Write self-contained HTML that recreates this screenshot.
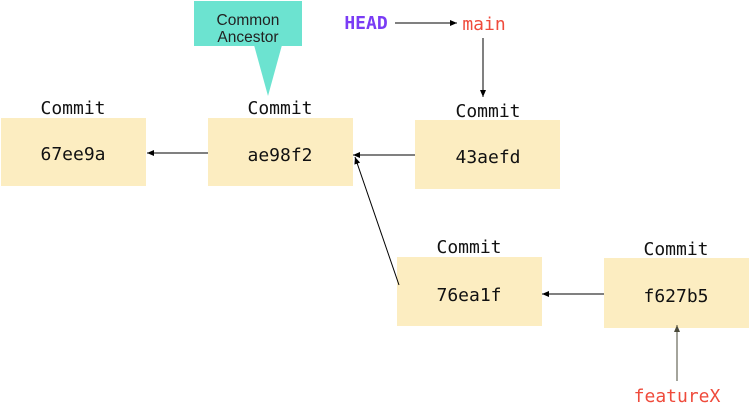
<!DOCTYPE html>
<html><head><style>
body{margin:0;background:#fff;width:750px;height:412px;overflow:hidden}
</style></head><body>
<svg width="750" height="412" xmlns="http://www.w3.org/2000/svg">
<defs><marker id="a" markerWidth="8" markerHeight="8" refX="7" refY="4" orient="auto" markerUnits="userSpaceOnUse"><path d="M0,1 L7,4 L0,7 z" fill="#000"/></marker>
<marker id="b" markerWidth="8" markerHeight="8" refX="7" refY="4" orient="auto" markerUnits="userSpaceOnUse"><path d="M0,1 L7,4 L0,7 z" fill="#4a4a3a"/></marker></defs>
<g fill="#fcedc1">
<rect x="1" y="118" width="145" height="68"/>
<rect x="208" y="118" width="145" height="68"/>
<rect x="415" y="120" width="145" height="69"/>
<rect x="397" y="257" width="145" height="69"/>
<rect x="604" y="258" width="145" height="70"/>
</g>
<rect x="194" y="1" width="108" height="45" fill="#6ce3d0"/>
<path d="M254,45 L282,45 L268,96 z" fill="#6ce3d0"/>
<text x="248" y="25" font-family="Liberation Sans,sans-serif" font-size="15.5" text-anchor="middle" fill="#222">Common</text>
<text x="248" y="42" font-family="Liberation Sans,sans-serif" font-size="15.5" text-anchor="middle" fill="#222">Ancestor</text>
<g font-family="DejaVu Sans Mono,Liberation Mono,monospace" font-size="18" text-anchor="middle" fill="#111">
<text x="73" y="114">Commit</text>
<text x="280" y="114">Commit</text>
<text x="488" y="117">Commit</text>
<text x="469" y="253">Commit</text>
<text x="676" y="255">Commit</text>
<text x="73" y="160">67ee9a</text>
<text x="280" y="161">ae98f2</text>
<text x="488" y="163">43aefd</text>
<text x="469" y="301">76ea1f</text>
<text x="676" y="302">f627b5</text>
<text x="366" y="29" fill="#7a3cf5" font-weight="bold">HEAD</text>
<text x="484" y="30" fill="#ef4b3c">main</text>
<text x="677" y="402" fill="#ef4b3c">featureX</text>
</g>
<g stroke="#000" stroke-width="1" fill="none">
<line x1="395" y1="23" x2="457" y2="23" marker-end="url(#a)"/>
<line x1="483" y1="38" x2="483" y2="97" marker-end="url(#a)"/>
<line x1="415" y1="155" x2="353" y2="155" marker-end="url(#a)"/>
<line x1="399" y1="285" x2="355" y2="157" marker-end="url(#a)"/>
<line x1="208" y1="153" x2="147" y2="153" marker-end="url(#a)"/>
<line x1="604" y1="294" x2="542" y2="294" marker-end="url(#a)"/>
<line x1="677" y1="381" x2="677" y2="325" stroke="#4a4a3a" marker-end="url(#b)"/>
</g>
</svg>
</body></html>
